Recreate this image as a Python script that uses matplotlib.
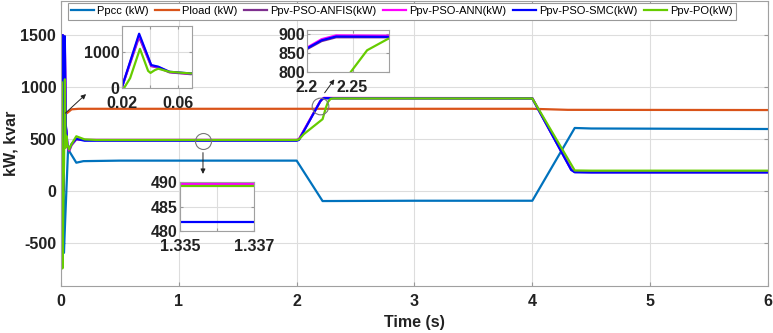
import matplotlib
matplotlib.use("Agg")
import matplotlib.pyplot as plt

plt.rcParams['font.family'] = ['Liberation Sans', 'DejaVu Sans']
plt.rcParams['axes.unicode_minus'] = False

# ---- data ----
t_pcc = [0, 0.004, 0.018, 0.025, 0.035, 0.06, 0.13, 0.19, 0.5, 2.0, 2.22, 3.0, 4.0, 4.36, 4.5, 6.0]
p_pcc = [0, 1500, 1500, -600, -300, 400, 270, 285, 290, 290, -100, -97, -97, 605, 600, 595]

t_load = [0, 0.012, 0.03, 0.05, 0.09, 0.15, 2.0, 4.0, 4.3, 6.0]
p_load = [0, 850, 760, 748, 785, 790, 790, 790, 780, 778]

t_pv = [0, 0.005, 0.015, 0.02, 0.0324, 0.041, 0.046, 0.054, 0.069, 0.09, 0.13, 0.2, 0.5,
        2.0, 2.02, 2.2, 2.216, 2.232, 2.3, 4.0, 4.33, 4.36, 4.5, 6.0]
p_anfis = [0, 1500, 1500, 0, 1400, 600, 560, 430, 380, 440, 495, 489.5, 489.4,
           489.4, 497, 860, 881, 891, 891, 890, 205, 180, 178, 178]
p_ann = [0, 1500, 1500, 0, 1450, 615, 575, 440, 392, 445, 500, 489.8, 489.7,
         489.7, 498, 864, 886, 896, 895, 893, 205, 182, 180, 180]
p_smc = [0, 1500, 1500, 0, 1490, 630, 585, 445, 400, 450, 500, 482, 481.8,
         481.8, 490, 862, 883, 893, 892, 890, 200, 178, 176, 176]

t_po = [0, 0.005, 0.012, 0.0217, 0.026, 0.033, 0.0388, 0.0405, 0.0435, 0.046, 0.054, 0.069,
        0.09, 0.13, 0.2, 0.3, 2.0, 2.02, 2.06, 2.22, 2.248, 2.266, 2.289, 2.31, 4.0, 4.36, 4.5, 6.0]
p_po = [0, 1050, -750, 0, 270, 1075, 470, 415, 490, 530, 445, 400,
        450, 525, 495, 489.1, 489.1, 495, 545, 690, 800, 857, 887, 890, 890, 195, 193, 193]

labels = ['Ppcc (kW)', 'Pload (kW)', 'Ppv-PSO-ANFIS(kW)', 'Ppv-PSO-ANN(kW)',
          'Ppv-PSO-SMC(kW)', 'Ppv-PO(kW)']
colors = ['#0072BD', '#D95319', '#7E2F8E', '#FF00FF', '#0000FF', '#66CC00']

x_ticks = [0, 1, 2, 3, 4, 5, 6]
y_ticks = [-500, 0, 500, 1000, 1500]

series = [(t_pcc, p_pcc), (t_load, p_load), (t_pv, p_anfis), (t_pv, p_ann),
          (t_pv, p_smc), (t_po, p_po)]

FS = 11.5

fig = plt.figure(figsize=(7.73, 3.33), dpi=100)
ax = fig.add_axes([0.0789, 0.141, 0.9146, 0.856])

for (tt, pp), lab, col in zip(series, labels, colors):
    ax.plot(tt, pp, color=col, lw=1.6, label=lab)

ax.set_xlim(0, 6)
ax.set_ylim(-920, 1830)
ax.set_xticks(x_ticks)
ax.set_yticks(y_ticks)
ax.grid(True, color='#dddddd', lw=0.8)
ax.tick_params(direction='in', top=True, right=True, length=3, colors='#999999',
               labelcolor='#222222', labelsize=FS)
ax.tick_params(axis='x', pad=6)
for lab in ax.get_xticklabels() + ax.get_yticklabels():
    lab.set_fontweight('bold')
for s in ax.spines.values():
    s.set_color('#a0a0a0')
ax.set_xlabel('Time (s)', fontweight='bold', fontsize=FS, color='#222222', labelpad=4)
ax.set_ylabel('kW, kvar', fontweight='bold', fontsize=FS, color='#222222', labelpad=1)

leg = ax.legend(loc='upper center', bbox_to_anchor=(0.482, 0.997), ncol=6, fontsize=8,
                frameon=True, fancybox=False, framealpha=1, edgecolor='#999999',
                handlelength=2.1, columnspacing=0.6, handletextpad=0.25,
                borderpad=0.3, borderaxespad=0.1)
leg.get_frame().set_linewidth(0.8)

# annotations: circles and arrows
ax.plot([2.2], [817], marker='o', ms=12, mfc='none', mec='#777777', mew=0.8)
ax.plot([1.205], [480], marker='o', ms=11.5, mfc='none', mec='#777777', mew=0.8)
arrow = dict(arrowstyle='-|>', color='#222222', lw=0.7, mutation_scale=7)
ax.annotate('', xy=(0.23, 950), xytext=(0.02, 730), arrowprops=arrow)
ax.annotate('', xy=(2.334, 1096), xytext=(2.224, 923), arrowprops=arrow)
ax.annotate('', xy=(1.205, 135), xytext=(1.205, 394), arrowprops=arrow)


def make_inset(rect, xlim, ylim, xt, xtl, yt):
    ia = fig.add_axes(rect)
    for (tt, pp), col in list(zip(series, colors))[2:]:
        ia.plot(tt, pp, color=col, lw=1.6)
    ia.set_xlim(*xlim)
    ia.set_ylim(*ylim)
    ia.set_xticks(xt)
    ia.set_xticklabels(xtl)
    ia.set_yticks(yt)
    ia.grid(True, color='#dddddd', lw=0.8)
    ia.tick_params(direction='in', top=True, right=True, length=2, colors='#999999',
                   labelcolor='#222222', labelsize=FS, pad=1.5)
    ia.tick_params(axis='x', pad=6)
    for lab in ia.get_xticklabels() + ia.get_yticklabels():
        lab.set_fontweight('bold')
    for s in ia.spines.values():
        s.set_color('#a0a0a0')
    return ia


make_inset([0.1574, 0.7357, 0.091, 0.186], (0.02, 0.07), (0, 1700),
           [0.02, 0.04, 0.06], ['0.02', '', '0.06'], [0, 1000])
make_inset([0.3972, 0.7838, 0.106, 0.126], (2.2, 2.29), (800, 910),
           [2.2, 2.25], ['2.2', '2.25'], [800, 850, 900])
make_inset([0.2329, 0.3063, 0.0957, 0.147], (1.335, 1.337), (480, 490),
           [1.335, 1.336, 1.337], ['1.335', '', '1.337'], [480, 485, 490])

fig.savefig('out.png', dpi=100)
